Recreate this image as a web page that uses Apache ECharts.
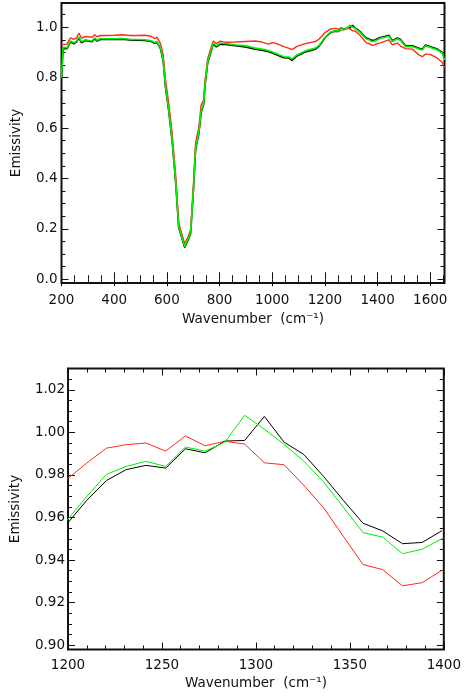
<!DOCTYPE html>
<html>
<head>
<meta charset="utf-8">
<script src="https://cdn.jsdelivr.net/npm/echarts@6/dist/echarts.min.js"></script>
<style>html,body{margin:0;padding:0;background:#fff;}#c{width:464px;height:697px;}</style>
</head>
<body>
<div id="c"></div>
<script>
// ---------- Top panel data (full spectrum) ----------
const topWavenumber = [
  200, 206, 221, 234, 247, 257, 266, 276, 291, 300, 307, 316, 326, 335, 348, 370, 400, 430, 460, 490, 515, 530, 544, 553, 563,
  576, 586, 595, 607, 620, 633, 645, 658, 668, 679, 690, 700, 709, 721, 730, 740, 744, 755, 765, 776, 788, 803,
  822, 860, 898, 936, 960, 974, 986, 1000, 1012, 1044, 1062, 1075, 1094, 1126, 1164, 1178, 1189,
  1199.5, 1210, 1220.5, 1231, 1241.5, 1252, 1262.5, 1273, 1283.5, 1294, 1304.5, 1315, 1325.5, 1336, 1346.5, 1357, 1367.5, 1378, 1388.5, 1399,
  1409.5, 1424, 1443, 1456, 1475, 1487, 1506, 1532, 1557, 1570, 1582, 1601, 1627, 1646, 1654
];
const topBlack = [
  0.800, 0.915, 0.915, 0.942, 0.934, 0.942, 0.958, 0.938, 0.947, 0.945, 0.951, 0.942, 0.954, 0.945, 0.952, 0.951, 0.951, 0.952, 0.949, 0.948, 0.947, 0.945, 0.942, 0.936, 0.940,
  0.914, 0.866, 0.760, 0.668, 0.549, 0.390, 0.205, 0.160, 0.126, 0.152, 0.180, 0.336, 0.515, 0.575, 0.660, 0.694, 0.760, 0.860, 0.893, 0.933, 0.922, 0.933,
  0.932, 0.927, 0.922, 0.913, 0.909, 0.906, 0.903, 0.898, 0.893, 0.879, 0.878, 0.868, 0.886, 0.902, 0.913, 0.925, 0.940,
  0.957, 0.9681, 0.9774, 0.9825, 0.9845, 0.9832, 0.9923, 0.9904, 0.9959, 0.9962, 1.0075, 0.9954, 0.9896, 0.9793, 0.9681, 0.9573, 0.9537, 0.9477, 0.9483, 0.9538,
  0.959, 0.962, 0.968, 0.946, 0.957, 0.951, 0.926, 0.926, 0.916, 0.913, 0.929, 0.922, 0.913, 0.900, 0.875
];
const topGreen = [
  0.800, 0.920, 0.918, 0.945, 0.938, 0.945, 0.962, 0.942, 0.950, 0.948, 0.955, 0.945, 0.958, 0.948, 0.955, 0.954, 0.954, 0.955, 0.952, 0.951, 0.950, 0.948, 0.945, 0.939, 0.943,
  0.917, 0.870, 0.764, 0.672, 0.553, 0.394, 0.209, 0.163, 0.129, 0.156, 0.183, 0.341, 0.520, 0.579, 0.665, 0.698, 0.764, 0.864, 0.897, 0.937, 0.926, 0.937,
  0.935, 0.930, 0.926, 0.917, 0.913, 0.910, 0.907, 0.902, 0.897, 0.883, 0.882, 0.873, 0.890, 0.906, 0.917, 0.928, 0.943,
  0.9587, 0.9699, 0.9803, 0.984, 0.9864, 0.984, 0.9931, 0.9912, 0.9954, 1.008, 1.0015, 0.9943, 0.9865, 0.9767, 0.9649, 0.9529, 0.9508, 0.943, 0.9451, 0.9501,
  0.956, 0.959, 0.965, 0.943, 0.954, 0.948, 0.923, 0.923, 0.913, 0.910, 0.926, 0.919, 0.910, 0.897, 0.870
];
const topRed = [
  0.930, 0.935, 0.933, 0.958, 0.952, 0.958, 0.976, 0.957, 0.963, 0.962, 0.968, 0.960, 0.970, 0.962, 0.967, 0.967, 0.968, 0.970, 0.967, 0.967, 0.968, 0.966, 0.962, 0.955, 0.960,
  0.935, 0.890, 0.790, 0.700, 0.580, 0.420, 0.225, 0.175, 0.140, 0.165, 0.195, 0.360, 0.540, 0.600, 0.690, 0.712, 0.780, 0.875, 0.910, 0.945, 0.935, 0.945,
  0.940, 0.941, 0.943, 0.945, 0.941, 0.937, 0.933, 0.939, 0.937, 0.923, 0.917, 0.911, 0.924, 0.935, 0.943, 0.953, 0.965,
  0.978, 0.9856, 0.9926, 0.9942, 0.995, 0.9912, 0.9983, 0.9937, 0.9958, 0.9945, 0.9857, 0.9848, 0.9751, 0.9646, 0.9512, 0.9379, 0.9355, 0.9279, 0.9294, 0.9352,
  0.937, 0.943, 0.950, 0.930, 0.937, 0.925, 0.915, 0.913, 0.890, 0.883, 0.894, 0.891, 0.877, 0.860, 0.837
];

// ---------- Bottom panel data (1200-1400 zoom) ----------
const zoomWavenumber = [1199.5, 1210, 1220.5, 1231, 1241.5, 1252, 1262.5, 1273, 1283.5, 1294, 1304.5, 1315, 1325.5, 1336, 1346.5, 1357, 1367.5, 1378, 1388.5, 1399];
const zoomBlack = [0.957, 0.9681, 0.9774, 0.9825, 0.9845, 0.9832, 0.9923, 0.9904, 0.9959, 0.9962, 1.0075, 0.9954, 0.9896, 0.9793, 0.9681, 0.9573, 0.9537, 0.9477, 0.9483, 0.9538];
const zoomGreen = [0.9587, 0.9699, 0.9803, 0.984, 0.9864, 0.984, 0.9931, 0.9912, 0.9954, 1.008, 1.0015, 0.9943, 0.9865, 0.9767, 0.9649, 0.9529, 0.9508, 0.943, 0.9451, 0.9501];
const zoomRed = [0.978, 0.9856, 0.9926, 0.9942, 0.995, 0.9912, 0.9983, 0.9937, 0.9958, 0.9945, 0.9857, 0.9848, 0.9751, 0.9646, 0.9512, 0.9379, 0.9355, 0.9279, 0.9294, 0.9352];

// ---------- Tick values ----------
const topXMajor = [200, 400, 600, 800, 1000, 1200, 1400, 1600];
const topXMinor = [250, 300, 350, 450, 500, 550, 650, 700, 750, 850, 900, 950, 1050, 1100, 1150, 1250, 1300, 1350, 1450, 1500, 1550, 1650];
const topYMajor = [0, 0.2, 0.4, 0.6, 0.8, 1.0];
const topYMinor = [0.05, 0.1, 0.15, 0.25, 0.3, 0.35, 0.45, 0.5, 0.55, 0.65, 0.7, 0.75, 0.85, 0.9, 0.95, 1.05];
const botXMajor = [1200, 1250, 1300, 1350, 1400];
const botXMinor = [1210, 1220, 1230, 1240, 1260, 1270, 1280, 1290, 1310, 1320, 1330, 1340, 1360, 1370, 1380, 1390];
const botYMajor = [0.90, 0.92, 0.94, 0.96, 0.98, 1.00, 1.02];
const botYMinor = [0.905, 0.91, 0.915, 0.925, 0.93, 0.935, 0.945, 0.95, 0.955, 0.965, 0.97, 0.975, 0.985, 0.99, 0.995, 1.005, 1.01, 1.015, 1.025];

const FONT = 'DejaVu Sans';
const TXT = '#111';
const FS = 13.5;
const X_TITLE = 'Wavenumber  (cm\u207B\u00B9)';
const Y_TITLE = 'Emissivity';

function pair(xs, ys) { return xs.map((x, i) => [x, ys[i]]); }

function makeAxis(gridIndex, position, min, max, ticks, len, opts) {
  opts = opts || {};
  const ax = {
    type: 'value', gridIndex, position, min, max, offset: 0,
    axisLine: { show: false },
    splitLine: { show: false },
    axisTick: { show: true, inside: true, length: len, customValues: ticks, lineStyle: { color: TXT, width: 1 } },
    axisLabel: { show: false }
  };
  if (opts.label) {
    ax.axisLabel = {
      show: true, customValues: ticks, margin: opts.margin,
      fontFamily: FONT, fontSize: FS, color: TXT,
      formatter: opts.formatter
    };
  }
  if (opts.name) {
    ax.name = opts.name;
    ax.nameLocation = 'middle';
    ax.nameGap = opts.nameGap;
    ax.nameTextStyle = { fontFamily: FONT, fontSize: FS, color: TXT };
  }
  return ax;
}

const TOP_X = [200, 1654], TOP_Y = [-0.015, 1.096];
const BOT_X = [1200, 1400], BOT_Y = [0.898, 1.03];

const xAxes = [
  makeAxis(0, 'bottom', TOP_X[0], TOP_X[1], topXMajor, 7, { label: true, margin: 10, formatter: v => String(Math.round(v)), name: X_TITLE, nameGap: 29 }),
  makeAxis(0, 'bottom', TOP_X[0], TOP_X[1], topXMinor, 4),
  makeAxis(0, 'top', TOP_X[0], TOP_X[1], topXMajor, 7),
  makeAxis(0, 'top', TOP_X[0], TOP_X[1], topXMinor, 4),
  makeAxis(1, 'bottom', BOT_X[0], BOT_X[1], botXMajor, 7, { label: true, margin: 9, formatter: v => String(Math.round(v)), name: X_TITLE, nameGap: 27 }),
  makeAxis(1, 'bottom', BOT_X[0], BOT_X[1], botXMinor, 4),
  makeAxis(1, 'top', BOT_X[0], BOT_X[1], botXMajor, 7),
  makeAxis(1, 'top', BOT_X[0], BOT_X[1], botXMinor, 4)
];
const yAxes = [
  makeAxis(0, 'left', TOP_Y[0], TOP_Y[1], topYMajor, 7, { label: true, margin: 4, formatter: v => v.toFixed(1), name: Y_TITLE, nameGap: 38 }),
  makeAxis(0, 'left', TOP_Y[0], TOP_Y[1], topYMinor, 4),
  makeAxis(0, 'right', TOP_Y[0], TOP_Y[1], topYMajor, 7),
  makeAxis(0, 'right', TOP_Y[0], TOP_Y[1], topYMinor, 4),
  makeAxis(1, 'left', BOT_Y[0], BOT_Y[1], botYMajor, 7, { label: true, margin: 3, formatter: v => v.toFixed(2), name: Y_TITLE, nameGap: 46 }),
  makeAxis(1, 'left', BOT_Y[0], BOT_Y[1], botYMinor, 4),
  makeAxis(1, 'right', BOT_Y[0], BOT_Y[1], botYMajor, 7),
  makeAxis(1, 'right', BOT_Y[0], BOT_Y[1], botYMinor, 4)
];

function line(data, color, width, xi, yi) {
  return {
    type: 'line', data, xAxisIndex: xi, yAxisIndex: yi,
    showSymbol: false, symbol: 'none', clip: true, silent: true,
    lineStyle: { color, width }, itemStyle: { color }
  };
}

const BLACK = '#000000', GREEN = '#00f000', RED = '#ff2a1a';

const option = {
  animation: false,
  backgroundColor: '#ffffff',
  grid: [
    { left: 61.5, top: 3, width: 383, height: 280, show: true, borderColor: TXT, borderWidth: 2, backgroundColor: 'transparent' },
    { left: 61.5, top: 368.5, width: 383, height: 281, show: true, borderColor: TXT, borderWidth: 2, backgroundColor: 'transparent' }
  ],
  xAxis: xAxes,
  yAxis: yAxes,
  series: [
    line(pair(topWavenumber, topBlack), BLACK, 1.6, 0, 0),
    line(pair(topWavenumber, topRed), RED, 1.4, 0, 0),
    line(pair(topWavenumber, topGreen), GREEN, 1.6, 0, 0),
    line(pair(zoomWavenumber, zoomBlack), BLACK, 1, 4, 4),
    line(pair(zoomWavenumber, zoomRed), RED, 1, 4, 4),
    line(pair(zoomWavenumber, zoomGreen), GREEN, 1, 4, 4)
  ]
};

const chart = echarts.init(document.getElementById('c'), null, { renderer: 'canvas' });
chart.setOption(option);
</script>
</body>
</html>
